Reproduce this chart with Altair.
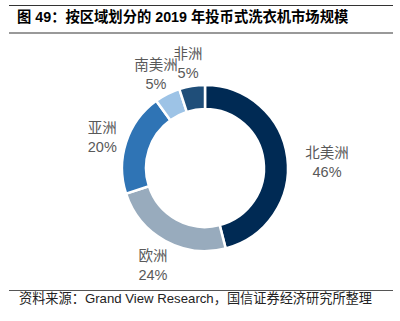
import altair as alt
import pandas as pd

regions = ["北美洲", "欧洲", "亚洲", "南美洲", "非洲"]
shares = [46, 24, 20, 5, 5]
colors = ["#002a54", "#98abbd", "#2f74b5", "#9dc3e6", "#1f4e79"]
title_text = "图 49：按区域划分的 2019 年投币式洗衣机市场规模"
source_text = "资料来源：Grand View Research，国信证券经济研究所整理"

df = pd.DataFrame({"region": regions, "share": shares, "idx": list(range(len(regions)))})

W, H = 400, 321
CX, CY = 205, 168
font = "Liberation Sans, Noto Sans CJK SC"

base = alt.Chart(df).transform_calculate(
    label="datum.region + '\\n' + datum.share + '%'"
).encode(
    theta=alt.Theta("share:Q", stack=True),
    order=alt.Order("idx:Q"),
)

arcs = base.mark_arc(radius=83, radius2=59, stroke="white", strokeWidth=2.5).encode(
    color=alt.Color("region:N", scale=alt.Scale(domain=regions, range=colors), legend=None),
    x=alt.value(CX), y=alt.value(CY),
)

lab_common = dict(fontSize=14.5, font=font, color="#595959", lineBreak="\n",
                  lineHeight=19, align="center", baseline="middle")

labels_other = base.mark_text(dy=-6, **lab_common).encode(
    x=alt.value(CX), y=alt.value(CY),
    radius=alt.value(108),
    text=alt.condition("datum.region !== '北美洲'", alt.Text("label:N"), alt.value("")),
)
labels_na = base.mark_text(dy=1, **lab_common).encode(
    x=alt.value(CX), y=alt.value(CY),
    radius=alt.value(123),
    text=alt.condition("datum.region === '北美洲'", alt.Text("label:N"), alt.value("")),
)

title = alt.Chart(pd.DataFrame({"t": [title_text]})).mark_text(
    align="left", baseline="middle", fontSize=14.3, fontWeight="bold", font=font, color="#000000"
).encode(x=alt.value(17), y=alt.value(18), text="t:N")

source = alt.Chart(pd.DataFrame({"t": [source_text]})).mark_text(
    align="left", baseline="middle", fontSize=13.2, font=font, color="#222222"
).encode(x=alt.value(19), y=alt.value(299), text="t:N")

line_df = pd.DataFrame({"k": [0]})
top_line = alt.Chart(line_df).mark_rule(color="#333333", strokeWidth=1).encode(
    x=alt.value(9), x2=alt.value(393), y=alt.value(5.5))
mid_line = alt.Chart(line_df).mark_rule(color="#999999", strokeWidth=2).encode(
    x=alt.value(9), x2=alt.value(393), y=alt.value(33))
bot_line = alt.Chart(line_df).mark_rule(color="#555555", strokeWidth=1).encode(
    x=alt.value(9), x2=alt.value(393), y=alt.value(290.5))

chart = alt.layer(arcs, labels_other, labels_na, title, source, top_line, mid_line, bot_line).properties(
    width=W, height=H, padding=0, autosize=alt.AutoSizeParams(type="none")
).configure_view(stroke=None)

chart.save("out.html", embed_options={"renderer": "svg", "actions": False})
